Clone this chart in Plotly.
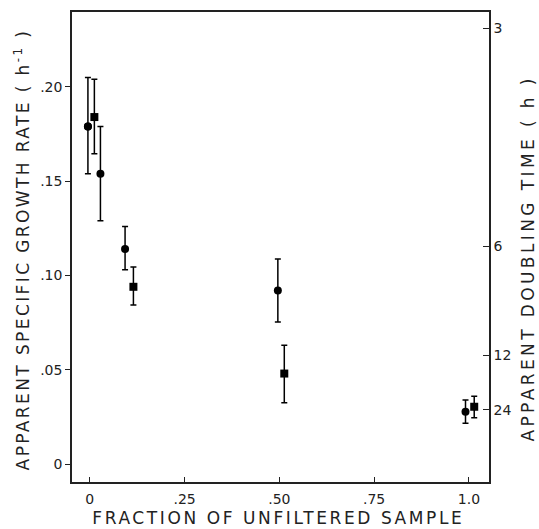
import math
import plotly.graph_objects as go

# Circles (series A)
circ_x = [-0.005, 0.028, 0.093, 0.496, 0.991]
circ_y = [0.179, 0.154, 0.114, 0.092, 0.0277]
circ_hi = [0.205, 0.179, 0.126, 0.1087, 0.034]
circ_lo = [0.154, 0.129, 0.103, 0.0754, 0.0216]

# Squares (series B)
sq_x = [0.012, 0.115, 0.513, 1.014]
sq_y = [0.184, 0.094, 0.048, 0.0304]
sq_hi = [0.204, 0.1045, 0.063, 0.036]
sq_lo = [0.1645, 0.0843, 0.0325, 0.0245]

x_tickvals = [0, 0.25, 0.5, 0.75, 1.0]
x_ticktext = ["0", ".25", ".50", ".75", "1.0"]
y_tickvals = [0, 0.05, 0.10, 0.15, 0.20]
y_ticktext = ["0", ".05", ".10", ".15", ".20"]
dbl_hours = [3, 6, 12, 24]
dbl_text = ["3", "6", "12", "24"]

x_title = "FRACTION OF UNFILTERED SAMPLE"
y_title = "APPARENT SPECIFIC GROWTH RATE ( h<sup>-1</sup> )"
y2_title = "APPARENT DOUBLING TIME ( h )"

YR = [-0.0095, 0.2397]
XR = [-0.047, 1.053]

fig = go.Figure()
fig.add_trace(go.Scatter(
    x=circ_x, y=circ_y, mode="markers",
    marker=dict(symbol="circle", size=8, color="black"),
    error_y=dict(type="data", symmetric=False,
                 array=[h - v for h, v in zip(circ_hi, circ_y)],
                 arrayminus=[v - l for l, v in zip(circ_lo, circ_y)],
                 color="black", thickness=1.5, width=3),
    showlegend=False))
fig.add_trace(go.Scatter(
    x=sq_x, y=sq_y, mode="markers",
    marker=dict(symbol="square", size=8, color="black"),
    error_y=dict(type="data", symmetric=False,
                 array=[h - v for h, v in zip(sq_hi, sq_y)],
                 arrayminus=[v - l for l, v in zip(sq_lo, sq_y)],
                 color="black", thickness=1.5, width=3),
    showlegend=False))
# trace on the right axis (doubling time scale shares the growth-rate range)
fig.add_trace(go.Scatter(x=[circ_x[0]], y=[circ_y[0]], yaxis="y2", mode="markers",
                         marker=dict(size=8, color="black"), showlegend=False,
                         hoverinfo="skip"))

font = "DejaVu Sans"
ax_common = dict(showgrid=False, zeroline=False, automargin=False,
                 tickcolor="#222", tickwidth=1.2, tickfont=dict(size=14),
                 showline=True, linecolor="#222", linewidth=1.5)
fig.update_layout(
    width=539, height=529,
    margin=dict(l=72, r=50, t=12, b=47),
    paper_bgcolor="white", plot_bgcolor="white",
    font=dict(family=font, color="#222", size=14),
    xaxis=dict(range=XR, tickvals=x_tickvals, ticktext=x_ticktext,
               ticks="inside", ticklen=5, mirror=True, ticklabelstandoff=3,
               **ax_common),
    yaxis=dict(range=YR, tickvals=y_tickvals, ticktext=y_ticktext,
               ticks="outside", ticklen=5, **ax_common),
    yaxis2=dict(range=YR, overlaying="y", side="right",
                tickvals=[math.log(2) / h for h in dbl_hours], ticktext=dbl_text,
                ticks="inside", ticklen=6, **ax_common),
    annotations=[
        dict(text=x_title, xref="paper", yref="paper", x=0.496, y=-0.0766,
             showarrow=False, font=dict(size=17), xanchor="center", yanchor="middle"),
        dict(text=y_title, xref="paper", yref="paper", x=-0.1199, y=0.4936,
             textangle=-90, showarrow=False, font=dict(size=17),
             xanchor="center", yanchor="middle"),
        dict(text=y2_title, xref="paper", yref="paper", x=1.0935, y=0.4766,
             textangle=-90, showarrow=False, font=dict(size=17),
             xanchor="center", yanchor="middle"),
    ],
)

post = """
var gd = document.getElementById('{plot_id}');
var sp = ['2.6px', '2.4px', '3.4px'];
gd.querySelectorAll('.annotation-text').forEach(function(t, i){
  if (i < sp.length) { t.style.letterSpacing = sp[i]; }
});
"""

fig.write_html("out.html", post_script=post)
